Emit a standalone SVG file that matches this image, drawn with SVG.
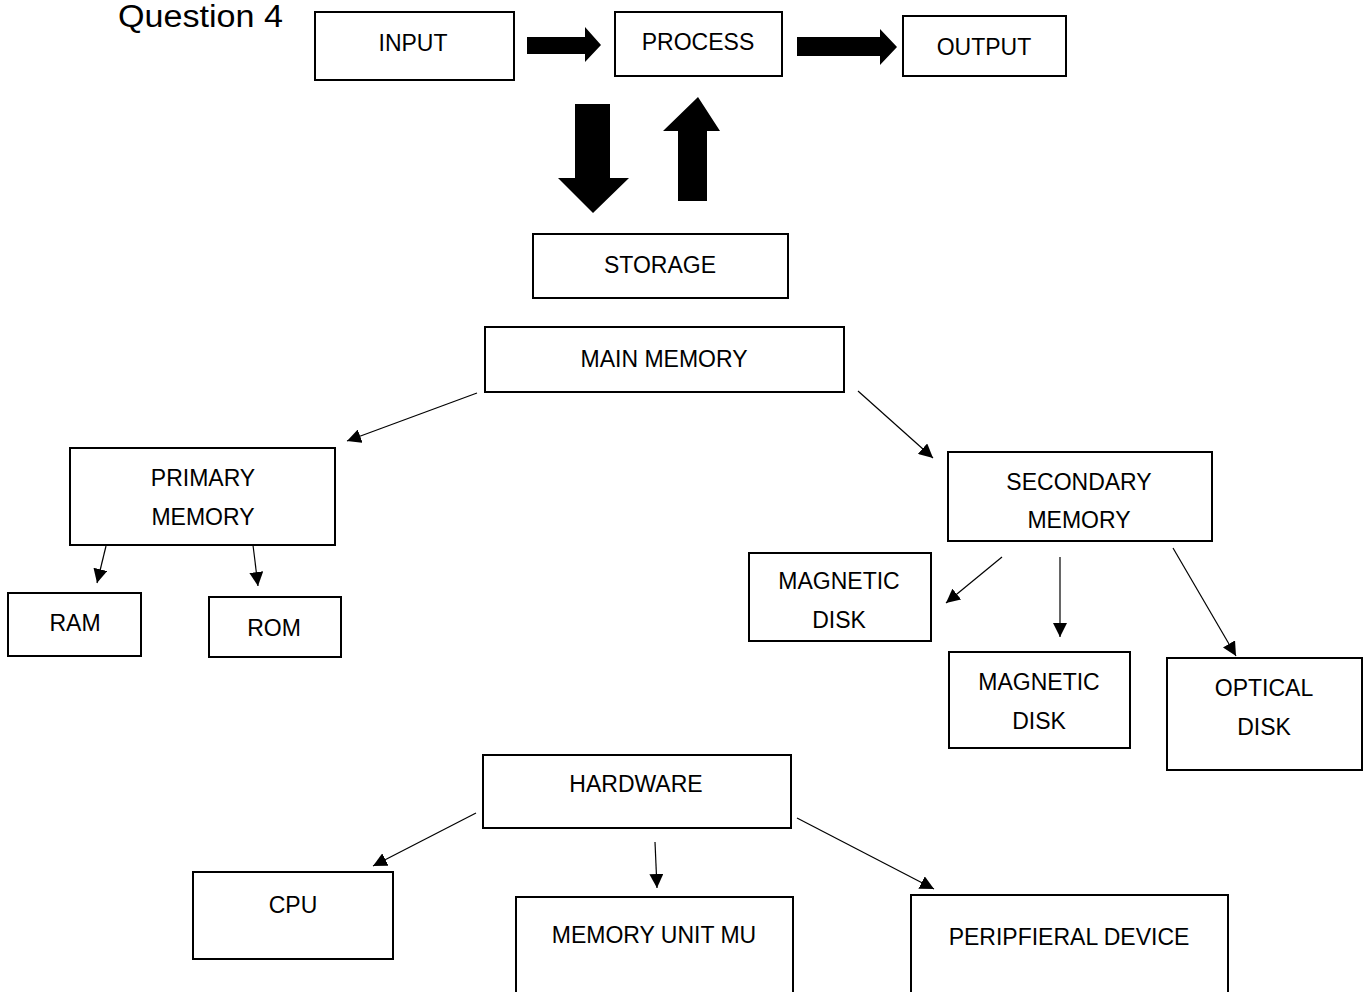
<svg xmlns="http://www.w3.org/2000/svg" width="1363" height="992" viewBox="0 0 1363 992">
  <style>
    .box { fill: #ffffff; stroke: #000000; stroke-width: 2; }
    .lbl { font-family: "Liberation Sans", Arial, sans-serif; font-size: 23px; fill: #000000; text-anchor: middle; }
    .title { font-family: "Liberation Sans", Arial, sans-serif; font-size: 31px; fill: #000000; }
    .link { stroke: #000000; stroke-width: 1.2; fill: none; marker-end: url(#tip); }
    .block { fill: #000000; stroke: none; }
  </style>
  <defs>
    <marker id="tip" viewBox="0 0 10 10" refX="10" refY="5" markerWidth="14" markerHeight="14" markerUnits="userSpaceOnUse" orient="auto">
      <path d="M0,0 L10,5 L0,10 Z" fill="#000000"/>
    </marker>
  </defs>

  <rect width="1363" height="992" fill="#ffffff"/>

  <text class="title" x="118" y="27" textLength="165" lengthAdjust="spacingAndGlyphs">Question 4</text>

  <!-- block arrows between the top-level stages, then the thin tree links -->
  <g id="connectors">
    <path class="block" d="M527,37 H585 V27 L601,45 L585,62 V54 H527 Z"/>
    <path class="block" d="M797,37 H880 V29 L897,47 L880,65 V56 H797 Z"/>
    <path class="block" d="M575,104 H610 V178 H629 L593,213 L558,178 H575 Z"/>
    <path class="block" d="M678,201 V131 H663 L698,97 L720,131 H707 V201 Z"/>

    <line class="link" x1="477" y1="393" x2="347" y2="441"/>
    <line class="link" x1="858" y1="391" x2="933" y2="458"/>
    <line class="link" x1="106" y1="546" x2="97" y2="583"/>
    <line class="link" x1="253" y1="545" x2="258" y2="586"/>
    <line class="link" x1="1002" y1="557" x2="946" y2="603"/>
    <line class="link" x1="1060" y1="557" x2="1060" y2="637"/>
    <line class="link" x1="1173" y1="548" x2="1236" y2="656"/>
    <line class="link" x1="476" y1="813" x2="373" y2="866"/>
    <line class="link" x1="655" y1="842" x2="657" y2="888"/>
    <line class="link" x1="797" y1="818" x2="934" y2="889"/>
  </g>

  <g id="input"><rect class="box" x="315" y="12" width="199" height="68"/><text class="lbl" x="413" y="51">INPUT</text></g>
  <g id="process"><rect class="box" x="615" y="12" width="167" height="64"/><text class="lbl" x="698" y="50">PROCESS</text></g>
  <g id="output"><rect class="box" x="903" y="16" width="163" height="60"/><text class="lbl" x="984" y="55">OUTPUT</text></g>
  <g id="storage"><rect class="box" x="533" y="234" width="255" height="64"/><text class="lbl" x="660" y="273">STORAGE</text></g>
  <g id="main-memory"><rect class="box" x="485" y="327" width="359" height="65"/><text class="lbl" x="664" y="367">MAIN MEMORY</text></g>
  <g id="primary-memory"><rect class="box" x="70" y="448" width="265" height="97"/><text class="lbl" x="203" y="486">PRIMARY</text><text class="lbl" x="203" y="525">MEMORY</text></g>
  <g id="ram"><rect class="box" x="8" y="593" width="133" height="63"/><text class="lbl" x="75" y="631">RAM</text></g>
  <g id="rom"><rect class="box" x="209" y="597" width="132" height="60"/><text class="lbl" x="274" y="636">ROM</text></g>
  <g id="secondary-memory"><rect class="box" x="948" y="452" width="264" height="89"/><text class="lbl" x="1079" y="490">SECONDARY</text><text class="lbl" x="1079" y="528">MEMORY</text></g>
  <g id="magnetic-disk-1"><rect class="box" x="749" y="553" width="182" height="88"/><text class="lbl" x="839" y="589">MAGNETIC</text><text class="lbl" x="839" y="628">DISK</text></g>
  <g id="magnetic-disk-2"><rect class="box" x="949" y="652" width="181" height="96"/><text class="lbl" x="1039" y="690">MAGNETIC</text><text class="lbl" x="1039" y="729">DISK</text></g>
  <g id="optical-disk"><rect class="box" x="1167" y="658" width="195" height="112"/><text class="lbl" x="1264" y="696">OPTICAL</text><text class="lbl" x="1264" y="735">DISK</text></g>
  <g id="hardware"><rect class="box" x="483" y="755" width="308" height="73"/><text class="lbl" x="636" y="792">HARDWARE</text></g>
  <g id="cpu"><rect class="box" x="193" y="872" width="200" height="87"/><text class="lbl" x="293" y="913">CPU</text></g>
  <g id="memory-unit"><rect class="box" x="516" y="897" width="277" height="110"/><text class="lbl" x="654" y="943">MEMORY UNIT MU</text></g>
  <g id="peripheral-device"><rect class="box" x="911" y="895" width="317" height="110"/><text class="lbl" x="1069" y="945">PERIPFIERAL DEVICE</text></g>
</svg>
